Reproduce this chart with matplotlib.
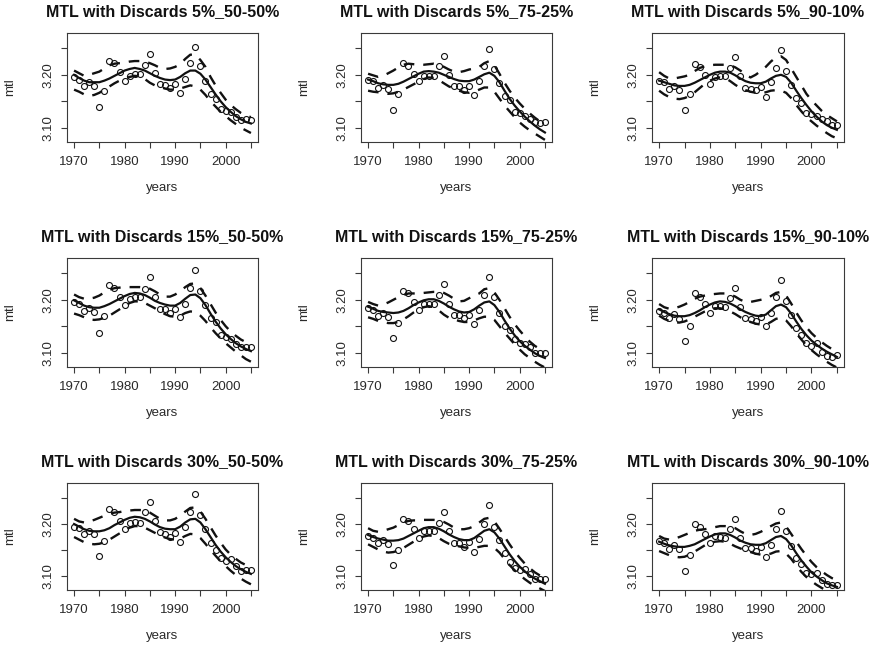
import matplotlib
matplotlib.use("Agg")
import matplotlib.pyplot as plt

plt.rcParams["font.family"] = ["Liberation Sans", "DejaVu Sans"]

years = list(range(1970, 2006))

# --- Discards 5% ---
mtl_5_50 = [3.195, 3.191, 3.179, 3.186, 3.178, 3.139, 3.169, 3.226, 3.222, 3.206, 3.189, 3.198,
            3.202, 3.202, 3.219, 3.239, 3.204, 3.183, 3.181, 3.176, 3.183, 3.166, 3.193, 3.222,
            3.252, 3.217, 3.189, 3.163, 3.155, 3.136, 3.131, 3.130, 3.121, 3.114, 3.116, 3.114]
fit_5_50 = [3.200, 3.194, 3.189, 3.186, 3.186, 3.186, 3.189, 3.193, 3.198, 3.203, 3.208, 3.211,
            3.213, 3.211, 3.208, 3.203, 3.198, 3.194, 3.191, 3.190, 3.191, 3.196, 3.203, 3.208,
            3.208, 3.202, 3.191, 3.177, 3.163, 3.150, 3.139, 3.130, 3.122, 3.116, 3.111, 3.108]
up_5_50 = [3.208, 3.203, 3.198, 3.200, 3.203, 3.206, 3.212, 3.218, 3.221, 3.222, 3.223, 3.225,
           3.226, 3.226, 3.225, 3.222, 3.218, 3.213, 3.211, 3.212, 3.215, 3.220, 3.230, 3.238,
           3.238, 3.228, 3.215, 3.196, 3.180, 3.166, 3.153, 3.143, 3.135, 3.128, 3.123, 3.120]
lo_5_50 = [3.172, 3.168, 3.163, 3.160, 3.162, 3.166, 3.172, 3.178, 3.184, 3.189, 3.193, 3.196,
           3.198, 3.197, 3.192, 3.185, 3.180, 3.177, 3.174, 3.172, 3.172, 3.174, 3.177, 3.180,
           3.178, 3.172, 3.162, 3.150, 3.140, 3.130, 3.122, 3.114, 3.107, 3.100, 3.095, 3.090]

mtl_5_75 = [3.191, 3.188, 3.175, 3.181, 3.173, 3.134, 3.164, 3.223, 3.217, 3.202, 3.188, 3.198,
            3.198, 3.198, 3.216, 3.236, 3.200, 3.179, 3.178, 3.172, 3.179, 3.162, 3.188, 3.217,
            3.248, 3.211, 3.184, 3.159, 3.153, 3.129, 3.127, 3.122, 3.117, 3.111, 3.109, 3.111]
fit_5_75 = [3.191, 3.188, 3.184, 3.182, 3.181, 3.181, 3.183, 3.187, 3.192, 3.197, 3.202, 3.206,
            3.207, 3.206, 3.204, 3.200, 3.196, 3.192, 3.189, 3.188, 3.188, 3.191, 3.196, 3.201,
            3.204, 3.198, 3.186, 3.170, 3.155, 3.142, 3.131, 3.121, 3.112, 3.104, 3.097, 3.091]
up_5_75 = [3.202, 3.199, 3.196, 3.198, 3.203, 3.208, 3.214, 3.219, 3.221, 3.220, 3.219, 3.219,
           3.220, 3.221, 3.219, 3.215, 3.210, 3.206, 3.205, 3.207, 3.210, 3.212, 3.215, 3.222,
           3.226, 3.218, 3.202, 3.185, 3.170, 3.157, 3.146, 3.136, 3.127, 3.119, 3.112, 3.107]
lo_5_75 = [3.170, 3.168, 3.167, 3.166, 3.164, 3.165, 3.168, 3.172, 3.177, 3.182, 3.187, 3.192,
           3.195, 3.194, 3.190, 3.184, 3.178, 3.174, 3.170, 3.167, 3.166, 3.168, 3.172, 3.176,
           3.176, 3.168, 3.155, 3.142, 3.131, 3.120, 3.110, 3.102, 3.095, 3.089, 3.083, 3.077]

mtl_5_90 = [3.189, 3.186, 3.173, 3.179, 3.172, 3.133, 3.163, 3.221, 3.214, 3.200, 3.183, 3.196,
            3.197, 3.197, 3.213, 3.233, 3.197, 3.176, 3.174, 3.172, 3.177, 3.158, 3.186, 3.213,
            3.247, 3.208, 3.181, 3.156, 3.147, 3.128, 3.125, 3.122, 3.116, 3.113, 3.106, 3.106]
fit_5_90 = [3.189, 3.186, 3.183, 3.180, 3.179, 3.179, 3.181, 3.185, 3.190, 3.195, 3.200, 3.204,
            3.206, 3.206, 3.204, 3.199, 3.193, 3.188, 3.185, 3.184, 3.184, 3.187, 3.193, 3.198,
            3.200, 3.196, 3.185, 3.170, 3.156, 3.143, 3.131, 3.121, 3.112, 3.105, 3.100, 3.096]
up_5_90 = [3.205, 3.198, 3.193, 3.193, 3.195, 3.197, 3.200, 3.207, 3.213, 3.216, 3.218, 3.219,
           3.219, 3.219, 3.218, 3.214, 3.208, 3.200, 3.195, 3.200, 3.207, 3.215, 3.225, 3.233,
           3.235, 3.228, 3.212, 3.196, 3.180, 3.164, 3.152, 3.142, 3.132, 3.124, 3.118, 3.112]
lo_5_90 = [3.170, 3.163, 3.158, 3.155, 3.154, 3.156, 3.160, 3.167, 3.175, 3.183, 3.189, 3.193,
           3.195, 3.194, 3.188, 3.181, 3.175, 3.171, 3.168, 3.166, 3.165, 3.167, 3.170, 3.171,
           3.170, 3.166, 3.156, 3.143, 3.131, 3.120, 3.112, 3.104, 3.097, 3.090, 3.084, 3.080]

# --- Discards 15% ---
mtl_15_50 = [3.195, 3.192, 3.179, 3.185, 3.177, 3.137, 3.170, 3.228, 3.223, 3.206, 3.190, 3.202,
             3.205, 3.205, 3.221, 3.243, 3.205, 3.183, 3.182, 3.176, 3.183, 3.168, 3.192, 3.223,
             3.256, 3.217, 3.190, 3.165, 3.158, 3.134, 3.129, 3.126, 3.117, 3.110, 3.111, 3.111]
fit_15_50 = [3.199, 3.194, 3.189, 3.186, 3.185, 3.185, 3.188, 3.192, 3.197, 3.202, 3.207, 3.211,
             3.213, 3.212, 3.209, 3.204, 3.198, 3.194, 3.191, 3.189, 3.189, 3.194, 3.202, 3.209,
             3.210, 3.203, 3.190, 3.174, 3.159, 3.146, 3.135, 3.126, 3.118, 3.112, 3.107, 3.103]
up_15_50 = [3.210, 3.205, 3.202, 3.202, 3.204, 3.208, 3.214, 3.219, 3.222, 3.223, 3.224, 3.224,
            3.224, 3.224, 3.223, 3.221, 3.216, 3.210, 3.206, 3.206, 3.210, 3.216, 3.224, 3.230,
            3.231, 3.222, 3.208, 3.192, 3.176, 3.162, 3.150, 3.140, 3.132, 3.125, 3.120, 3.117]
lo_15_50 = [3.174, 3.171, 3.167, 3.163, 3.162, 3.163, 3.166, 3.170, 3.176, 3.182, 3.188, 3.194,
            3.197, 3.197, 3.194, 3.189, 3.184, 3.178, 3.173, 3.169, 3.168, 3.170, 3.175, 3.178,
            3.177, 3.170, 3.160, 3.148, 3.137, 3.127, 3.118, 3.110, 3.102, 3.095, 3.088, 3.083]

mtl_15_75 = [3.185, 3.181, 3.170, 3.175, 3.168, 3.127, 3.157, 3.217, 3.212, 3.195, 3.181, 3.192,
             3.192, 3.192, 3.210, 3.229, 3.192, 3.172, 3.171, 3.166, 3.172, 3.154, 3.181, 3.210,
             3.243, 3.206, 3.176, 3.150, 3.142, 3.126, 3.119, 3.116, 3.110, 3.100, 3.100, 3.100]
fit_15_75 = [3.187, 3.183, 3.179, 3.177, 3.176, 3.175, 3.176, 3.179, 3.184, 3.190, 3.195, 3.199,
             3.201, 3.201, 3.198, 3.193, 3.187, 3.182, 3.178, 3.176, 3.177, 3.182, 3.189, 3.195,
             3.197, 3.190, 3.177, 3.161, 3.146, 3.133, 3.122, 3.113, 3.106, 3.099, 3.094, 3.090]
up_15_75 = [3.196, 3.192, 3.189, 3.191, 3.195, 3.200, 3.205, 3.209, 3.212, 3.212, 3.212, 3.213,
            3.214, 3.215, 3.215, 3.213, 3.208, 3.202, 3.197, 3.198, 3.203, 3.208, 3.212, 3.220,
            3.222, 3.214, 3.200, 3.184, 3.168, 3.154, 3.142, 3.131, 3.121, 3.113, 3.107, 3.102]
lo_15_75 = [3.167, 3.164, 3.160, 3.158, 3.156, 3.156, 3.158, 3.163, 3.169, 3.176, 3.182, 3.186,
            3.188, 3.186, 3.180, 3.172, 3.166, 3.163, 3.160, 3.158, 3.158, 3.161, 3.165, 3.168,
            3.168, 3.162, 3.150, 3.138, 3.127, 3.116, 3.106, 3.097, 3.090, 3.083, 3.077, 3.072]

mtl_15_90 = [3.179, 3.175, 3.165, 3.173, 3.163, 3.122, 3.151, 3.213, 3.206, 3.192, 3.175, 3.189,
             3.189, 3.186, 3.204, 3.223, 3.187, 3.165, 3.163, 3.160, 3.168, 3.150, 3.175, 3.205,
             3.238, 3.197, 3.171, 3.147, 3.134, 3.118, 3.113, 3.118, 3.101, 3.094, 3.092, 3.095]
fit_15_90 = [3.182, 3.177, 3.173, 3.170, 3.169, 3.169, 3.171, 3.175, 3.180, 3.186, 3.191, 3.195,
             3.197, 3.196, 3.193, 3.188, 3.182, 3.177, 3.173, 3.170, 3.169, 3.172, 3.180, 3.188,
             3.191, 3.186, 3.174, 3.159, 3.145, 3.133, 3.123, 3.115, 3.108, 3.102, 3.097, 3.092]
up_15_90 = [3.192, 3.186, 3.183, 3.184, 3.187, 3.191, 3.196, 3.202, 3.206, 3.208, 3.210, 3.211,
            3.212, 3.212, 3.210, 3.206, 3.200, 3.196, 3.196, 3.198, 3.200, 3.202, 3.207, 3.213,
            3.215, 3.208, 3.193, 3.176, 3.161, 3.148, 3.137, 3.128, 3.120, 3.113, 3.107, 3.103]
lo_15_90 = [3.170, 3.164, 3.160, 3.157, 3.157, 3.159, 3.163, 3.168, 3.173, 3.178, 3.182, 3.184,
            3.184, 3.182, 3.178, 3.173, 3.167, 3.162, 3.158, 3.155, 3.153, 3.153, 3.158, 3.164,
            3.166, 3.161, 3.150, 3.137, 3.125, 3.114, 3.105, 3.097, 3.090, 3.083, 3.077, 3.072]

# --- Discards 30% ---
mtl_30_50 = [3.195, 3.192, 3.181, 3.186, 3.181, 3.139, 3.168, 3.228, 3.223, 3.206, 3.191, 3.202,
             3.204, 3.202, 3.223, 3.242, 3.205, 3.184, 3.181, 3.176, 3.182, 3.166, 3.194, 3.223,
             3.257, 3.218, 3.190, 3.163, 3.150, 3.134, 3.129, 3.132, 3.119, 3.110, 3.111, 3.111]
fit_30_50 = [3.200, 3.195, 3.190, 3.187, 3.186, 3.186, 3.188, 3.192, 3.198, 3.203, 3.208, 3.212,
             3.214, 3.213, 3.210, 3.205, 3.199, 3.194, 3.191, 3.190, 3.190, 3.195, 3.203, 3.209,
             3.210, 3.203, 3.190, 3.175, 3.160, 3.147, 3.136, 3.127, 3.119, 3.113, 3.108, 3.104]
up_30_50 = [3.210, 3.205, 3.203, 3.205, 3.208, 3.212, 3.216, 3.220, 3.222, 3.223, 3.225, 3.226,
            3.227, 3.227, 3.226, 3.222, 3.216, 3.210, 3.207, 3.207, 3.210, 3.216, 3.224, 3.231,
            3.232, 3.224, 3.210, 3.194, 3.178, 3.164, 3.151, 3.141, 3.133, 3.126, 3.121, 3.117]
lo_30_50 = [3.175, 3.170, 3.165, 3.162, 3.161, 3.162, 3.165, 3.170, 3.176, 3.182, 3.188, 3.193,
            3.196, 3.196, 3.193, 3.188, 3.183, 3.178, 3.174, 3.171, 3.170, 3.172, 3.177, 3.181,
            3.180, 3.173, 3.162, 3.150, 3.139, 3.128, 3.119, 3.110, 3.102, 3.095, 3.089, 3.084]

mtl_30_75 = [3.177, 3.173, 3.163, 3.169, 3.162, 3.121, 3.150, 3.210, 3.206, 3.190, 3.173, 3.187,
             3.187, 3.186, 3.202, 3.223, 3.186, 3.164, 3.163, 3.156, 3.165, 3.147, 3.171, 3.200,
             3.236, 3.195, 3.169, 3.144, 3.127, 3.116, 3.111, 3.114, 3.103, 3.095, 3.094, 3.094]
fit_30_75 = [3.179, 3.175, 3.172, 3.170, 3.168, 3.168, 3.169, 3.172, 3.177, 3.182, 3.187, 3.192,
             3.194, 3.194, 3.191, 3.186, 3.180, 3.175, 3.171, 3.169, 3.169, 3.173, 3.180, 3.187,
             3.190, 3.184, 3.172, 3.157, 3.142, 3.129, 3.118, 3.109, 3.101, 3.095, 3.090, 3.085]
up_30_75 = [3.192, 3.187, 3.185, 3.187, 3.190, 3.193, 3.198, 3.203, 3.206, 3.207, 3.207, 3.208,
            3.208, 3.208, 3.207, 3.204, 3.199, 3.193, 3.190, 3.190, 3.192, 3.196, 3.203, 3.210,
            3.212, 3.205, 3.191, 3.176, 3.161, 3.147, 3.135, 3.124, 3.115, 3.107, 3.101, 3.097]
lo_30_75 = [3.161, 3.156, 3.151, 3.147, 3.145, 3.146, 3.149, 3.154, 3.160, 3.166, 3.172, 3.176,
            3.178, 3.177, 3.173, 3.167, 3.162, 3.159, 3.157, 3.155, 3.154, 3.154, 3.156, 3.158,
            3.158, 3.154, 3.145, 3.133, 3.121, 3.111, 3.102, 3.094, 3.087, 3.081, 3.076, 3.071]

mtl_30_90 = [3.168, 3.164, 3.152, 3.160, 3.152, 3.109, 3.140, 3.200, 3.195, 3.181, 3.164, 3.177,
             3.176, 3.174, 3.191, 3.210, 3.174, 3.153, 3.153, 3.149, 3.155, 3.136, 3.160, 3.190,
             3.225, 3.186, 3.158, 3.134, 3.124, 3.105, 3.103, 3.106, 3.092, 3.084, 3.082, 3.082]
fit_30_90 = [3.166, 3.162, 3.159, 3.157, 3.156, 3.156, 3.158, 3.161, 3.166, 3.171, 3.176, 3.180,
             3.182, 3.182, 3.179, 3.174, 3.168, 3.164, 3.161, 3.160, 3.160, 3.163, 3.169, 3.175,
             3.177, 3.171, 3.159, 3.144, 3.130, 3.118, 3.107, 3.099, 3.092, 3.086, 3.082, 3.079]
up_30_90 = [3.177, 3.172, 3.170, 3.172, 3.175, 3.179, 3.183, 3.187, 3.189, 3.190, 3.192, 3.194,
            3.196, 3.196, 3.195, 3.192, 3.186, 3.181, 3.179, 3.181, 3.185, 3.190, 3.196, 3.201,
            3.203, 3.195, 3.181, 3.166, 3.152, 3.139, 3.127, 3.117, 3.109, 3.102, 3.096, 3.092]
lo_30_90 = [3.148, 3.144, 3.140, 3.137, 3.136, 3.137, 3.141, 3.147, 3.153, 3.159, 3.163, 3.166,
            3.167, 3.166, 3.162, 3.157, 3.153, 3.149, 3.146, 3.143, 3.141, 3.141, 3.143, 3.147,
            3.148, 3.143, 3.133, 3.120, 3.108, 3.098, 3.090, 3.083, 3.077, 3.072, 3.068, 3.064]

titles = [
    "MTL with Discards 5%_50-50%", "MTL with Discards 5%_75-25%", "MTL with Discards 5%_90-10%",
    "MTL with Discards 15%_50-50%", "MTL with Discards 15%_75-25%", "MTL with Discards 15%_90-10%",
    "MTL with Discards 30%_50-50%", "MTL with Discards 30%_75-25%", "MTL with Discards 30%_90-10%",
]
panels = [
    (mtl_5_50, fit_5_50, up_5_50, lo_5_50), (mtl_5_75, fit_5_75, up_5_75, lo_5_75),
    (mtl_5_90, fit_5_90, up_5_90, lo_5_90), (mtl_15_50, fit_15_50, up_15_50, lo_15_50),
    (mtl_15_75, fit_15_75, up_15_75, lo_15_75), (mtl_15_90, fit_15_90, up_15_90, lo_15_90),
    (mtl_30_50, fit_30_50, up_30_50, lo_30_50), (mtl_30_75, fit_30_75, up_30_75, lo_30_75),
    (mtl_30_90, fit_30_90, up_30_90, lo_30_90),
]

x_ticks = [1970, 1975, 1980, 1985, 1990, 1995, 2000, 2005]
x_labels = ["1970", "", "1980", "", "1990", "", "2000", ""]
y_ticks = [3.10, 3.15, 3.20, 3.25]
y_labels = ["3.10", "", "3.20", ""]

W, H = 878, 645
col_x = [(67, 258), (361, 552), (652, 844)]
row_y = [(33, 142), (258, 367), (483, 590)]

fig = plt.figure(figsize=(8.78, 6.45), dpi=100)
ink = "#111111"
frame = "#3a3a3a"
txt = "#2a2a2a"

for i, (pts, fit, up, lo) in enumerate(panels):
    r, c = divmod(i, 3)
    x0, x1 = col_x[c]
    y0, y1 = row_y[r]
    ax = fig.add_axes([x0 / W, 1 - y1 / H, (x1 - x0) / W, (y1 - y0) / H])

    ax.plot(years, pts, "o", ms=4.3, mfc="none", mec=ink, mew=0.8)
    ax.plot(years, fit, "-", color=ink, lw=1.6)
    for band in (up, lo):
        ax.plot(years, band, color=ink, lw=1.7, dashes=(4.5, 3.8))

    ax.set_xlim(1968.6, 2006.4)
    ax.set_ylim(3.073, 3.279)
    ax.set_xticks(x_ticks)
    ax.set_xticklabels(x_labels)
    ax.set_yticks(y_ticks)
    ax.set_yticklabels(y_labels, rotation=90, va="center")
    ax.tick_params(direction="out", length=4, width=0.8, color=frame,
                   labelcolor=txt, labelsize=9.5)
    ax.tick_params(axis="x", pad=6)
    ax.tick_params(axis="y", pad=5)
    for s in ax.spines.values():
        s.set_color(frame)
        s.set_linewidth(0.8)

    ax.set_xlabel("years", fontsize=9.5, color=txt, labelpad=10)
    ax.set_ylabel("mtl", fontsize=9.5, color=txt, labelpad=19)
    ax.set_title(titles[i], fontsize=11.5, fontweight="bold", color=ink, pad=12)

fig.savefig("out.png", dpi=100)
